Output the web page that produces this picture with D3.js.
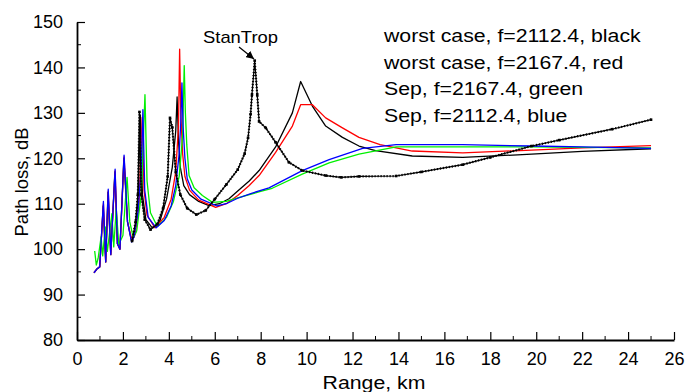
<!DOCTYPE html>
<html>
<head>
<meta charset="utf-8">
<script src="https://cdn.jsdelivr.net/npm/d3@7"></script>
<style>
  body { margin: 0; background: #fff; }
  svg text { font-family: 'Liberation Sans', Arial, sans-serif; fill: #000; }
</style>
</head>
<body>
<div id="wrapper"></div>
<script>
// range (km) / path loss (dB) pairs
const blackRange = [0.74, 0.88, 0.99, 1.14, 1.25, 1.35, 1.47, 1.65, 1.76, 1.87, 2.04, 2.2, 2.38, 2.5, 2.65, 2.76, 2.85, 3.0, 3.28, 3.6, 3.9, 4.15, 4.3, 4.36, 4.42, 4.5, 4.65, 4.9, 5.3, 5.75, 6.2, 6.62, 7.0, 7.5, 7.93, 8.65, 9.38, 9.74, 10.25, 10.83, 11.56, 12.28, 13.0, 14.6, 16.8, 19.8, 22.0, 25.0];
const blackLoss = [94.8, 95.7, 96.1, 109.5, 97.2, 112.5, 98.8, 117, 101.2, 100, 120, 106, 101.6, 103, 110, 129.5, 112, 106.5, 104.7, 106, 111, 118, 126, 133.5, 124, 118, 114, 112, 110.5, 109.6, 110, 111.1, 112.8, 115, 117.3, 122.5, 130, 136.9, 131.5, 127.1, 124.6, 122.7, 121.7, 120.5, 120.2, 120.9, 121.5, 122.1];

const redRange = [0.74, 0.88, 0.99, 1.15, 1.25, 1.36, 1.47, 1.66, 1.76, 1.87, 2.05, 2.2, 2.4, 2.55, 2.7, 2.84, 2.92, 3.05, 3.4, 3.8, 4.1, 4.3, 4.42, 4.47, 4.52, 4.6, 4.7, 4.9, 5.3, 6.04, 6.5, 7.0, 7.5, 7.93, 8.65, 9.38, 9.74, 10.25, 10.83, 11.56, 12.28, 13.2, 14.6, 16.8, 19.8, 22.0, 25.0];
const redLoss = [94.8, 95.7, 96.1, 110, 97.2, 112.8, 98.8, 117.2, 101.2, 100, 120.3, 106, 101.8, 103.5, 110, 129, 113, 107.5, 104.7, 107, 111, 117, 127, 144, 130, 121, 116, 113, 110.8, 109.2, 110, 111.8, 114, 116.2, 121.3, 127.1, 131.8, 131.8, 128.9, 126.7, 124.6, 123, 121.6, 121.2, 121.8, 122.3, 122.8];

const greenRange = [0.77, 0.84, 0.92, 1.05, 1.12, 1.23, 1.32, 1.52, 1.6, 1.71, 1.82, 2.0, 2.18, 2.3, 2.45, 2.6, 2.8, 2.96, 3.05, 3.2, 3.5, 3.9, 4.2, 4.45, 4.6, 4.67, 4.72, 4.78, 4.88, 5.1, 5.46, 5.9, 6.5, 7.0, 8.0, 8.5, 9.81, 10.98, 12.28, 13.9, 16.8, 19.8, 22.0, 25.0];
const greenLoss = [99.6, 96.5, 98, 102.7, 98.5, 104.9, 99.5, 107.8, 100.5, 108.9, 101, 103, 115.8, 106, 102.5, 104, 112, 134, 115, 108, 105, 107, 110.5, 116, 125, 140.4, 130, 123, 116.2, 113.5, 111.8, 110.3, 110.5, 111.3, 112.7, 113.4, 116.5, 119, 120.9, 122.5, 122.5, 122.5, 122.4, 122.3];

const blueRange = [0.74, 0.88, 0.99, 1.15, 1.25, 1.36, 1.47, 1.66, 1.76, 1.87, 2.05, 2.2, 2.38, 2.48, 2.65, 2.8, 2.87, 2.95, 3.1, 3.45, 3.8, 4.1, 4.3, 4.45, 4.52, 4.57, 4.62, 4.7, 4.8, 5.0, 5.4, 6.1, 6.5, 7.0, 7.6, 8.36, 9.81, 10.98, 12.44, 13.9, 16.8, 19.8, 22.0, 25.0];
const blueLoss = [94.8, 95.7, 96.1, 110.5, 97.2, 113.2, 98.8, 117.6, 101.2, 100, 120.7, 106, 101.6, 102.7, 108, 118, 130.7, 113, 107, 104.7, 106.3, 109.5, 114, 121, 128, 136.6, 127, 120, 115.5, 113, 111, 109.5, 110, 111.2, 112.3, 113.5, 117.3, 119.7, 122.2, 123, 123, 122.7, 122.5, 122.2];

const stanRange = [2.4, 2.55, 2.65, 2.72, 2.8, 2.95, 3.2, 3.5, 3.75, 3.95, 4.05, 4.15, 4.3, 4.5, 4.8, 5.2, 5.6, 6.0, 6.5, 7.0, 7.3, 7.45, 7.56, 7.62, 7.74, 7.85, 7.93, 8.22, 8.65, 9.23, 9.81, 10.83, 11.5, 12.28, 13.9, 15.0, 16.8, 18.0, 19.8, 21.0, 23.3, 25.0];
const stanLoss = [101.8, 106, 112, 130.2, 112, 106.5, 104.3, 105.5, 109, 116, 128.9, 126.8, 117, 112, 109, 107.6, 108.5, 111, 114.2, 117.5, 121, 124.5, 129.7, 134, 141.5, 134, 128.1, 126.7, 123.5, 119.1, 117.3, 116.2, 115.8, 116, 116.1, 117, 118.6, 120.2, 122.7, 124, 126.4, 128.5];

const legendLines = [
  'worst case, f=2112.4, black',
  'worst case, f=2167.4, red',
  'Sep, f=2167.4, green',
  'Sep, f=2112.4, blue',
];
const xTicks = d3.range(0, 27, 2);
const yTicks = d3.range(80, 151, 10);

const width = 685;
const height = 392;
const stretch = 1.15; // text in the picture is a bit wider than plain Arial

const svg = d3.select('#wrapper')
  .append('svg')
  .attr('width', width)
  .attr('height', height);

const xScale = d3.scaleLinear().domain([0, 26]).range([77, 674]);
const yScale = d3.scaleLinear().domain([80, 150]).range([340, 22]);

const zip = (xs, ys) => xs.map((x, i) => [x, ys[i]]);
const line = d3.line().x(d => xScale(d[0])).y(d => yScale(d[1]));

const series = [
  { data: zip(blackRange, blackLoss), color: '#000' },
  { data: zip(redRange, redLoss), color: '#ff0000' },
  { data: zip(greenRange, greenLoss), color: '#00f000' },
  { data: zip(blueRange, blueLoss), color: '#0000ff' },
];

svg.append('g')
  .selectAll('path')
  .data(series)
  .join('path')
  .attr('d', d => line(d.data))
  .attr('fill', 'none')
  .attr('stroke', d => d.color)
  .attr('stroke-width', 1.3)
  .attr('stroke-linejoin', 'round');

// StanTrop: black line with small markers
const stan = zip(stanRange, stanLoss);
svg.append('path')
  .attr('d', line(stan))
  .attr('fill', 'none')
  .attr('stroke', '#000')
  .attr('stroke-width', 1.2);
svg.append('path')
  .attr('d', line(stan))
  .attr('fill', 'none')
  .attr('stroke', '#000')
  .attr('stroke-width', 2.2)
  .attr('stroke-dasharray', '1.2,1.8');
svg.append('g')
  .selectAll('rect')
  .data(stan)
  .join('rect')
  .attr('x', d => xScale(d[0]) - 1.3)
  .attr('y', d => yScale(d[1]) - 1.3)
  .attr('width', 2.6)
  .attr('height', 2.6)
  .attr('fill', '#000');

// axes, ticks inside
const xAxis = svg.append('g')
  .attr('transform', `translate(0,${yScale(80)})`)
  .call(d3.axisBottom(xScale).tickValues(xTicks).tickSize(-8).tickPadding(12).tickSizeOuter(0));
xAxis.append('g')
  .selectAll('line')
  .data(d3.range(1, 26, 2))
  .join('line')
  .attr('x1', d => xScale(d))
  .attr('x2', d => xScale(d))
  .attr('y1', 0)
  .attr('y2', -4)
  .attr('stroke', '#000');

const yAxis = svg.append('g')
  .attr('transform', `translate(${xScale(0)},0)`)
  .call(d3.axisLeft(yScale).tickValues(yTicks).tickSize(-8).tickPadding(14).tickSizeOuter(0));
yAxis.append('g')
  .selectAll('line')
  .data(d3.range(85, 150, 10))
  .join('line')
  .attr('x1', 0)
  .attr('x2', 4)
  .attr('y1', d => yScale(d))
  .attr('y2', d => yScale(d))
  .attr('stroke', '#000');

svg.selectAll('.domain').attr('stroke', '#000').attr('stroke-width', 1.8);
svg.selectAll('.tick line').attr('stroke', '#000').attr('stroke-width', 1.2);
svg.selectAll('.tick text')
  .style('font-size', '18px')
  .attr('fill', '#000');

svg.append('text')
  .attr('transform', `translate(374,389) scale(${stretch},1)`)
  .attr('text-anchor', 'middle')
  .style('font-size', '18.5px')
  .text('Range, km');

svg.append('text')
  .attr('transform', 'translate(28,182) rotate(-90)')
  .attr('text-anchor', 'middle')
  .style('font-size', '18.5px')
  .text('Path loss, dB');

// legend text
svg.append('g')
  .attr('transform', `translate(384,0) scale(${stretch},1)`)
  .selectAll('text')
  .data(legendLines)
  .join('text')
  .attr('x', 0)
  .attr('y', (d, i) => 42 + i * 26.7)
  .style('font-size', '18.5px')
  .text(d => d);

// StanTrop label and arrow
svg.append('defs').append('marker')
  .attr('id', 'arrow')
  .attr('viewBox', '0 0 10 10')
  .attr('refX', 10)
  .attr('refY', 5)
  .attr('markerWidth', 8)
  .attr('markerHeight', 8)
  .attr('orient', 'auto')
  .attr('markerUnits', 'userSpaceOnUse')
  .append('path')
  .attr('d', 'M0,0 L10,5 L0,10 Z')
  .attr('fill', '#000');

svg.append('text')
  .attr('transform', `translate(203,43) scale(${stretch},1)`)
  .style('font-size', '16px')
  .text('StanTrop');

svg.append('line')
  .attr('x1', 239)
  .attr('y1', 47)
  .attr('x2', 254)
  .attr('y2', 59)
  .attr('stroke', '#000')
  .attr('stroke-width', 1.2)
  .attr('marker-end', 'url(#arrow)');
</script>
</body>
</html>
